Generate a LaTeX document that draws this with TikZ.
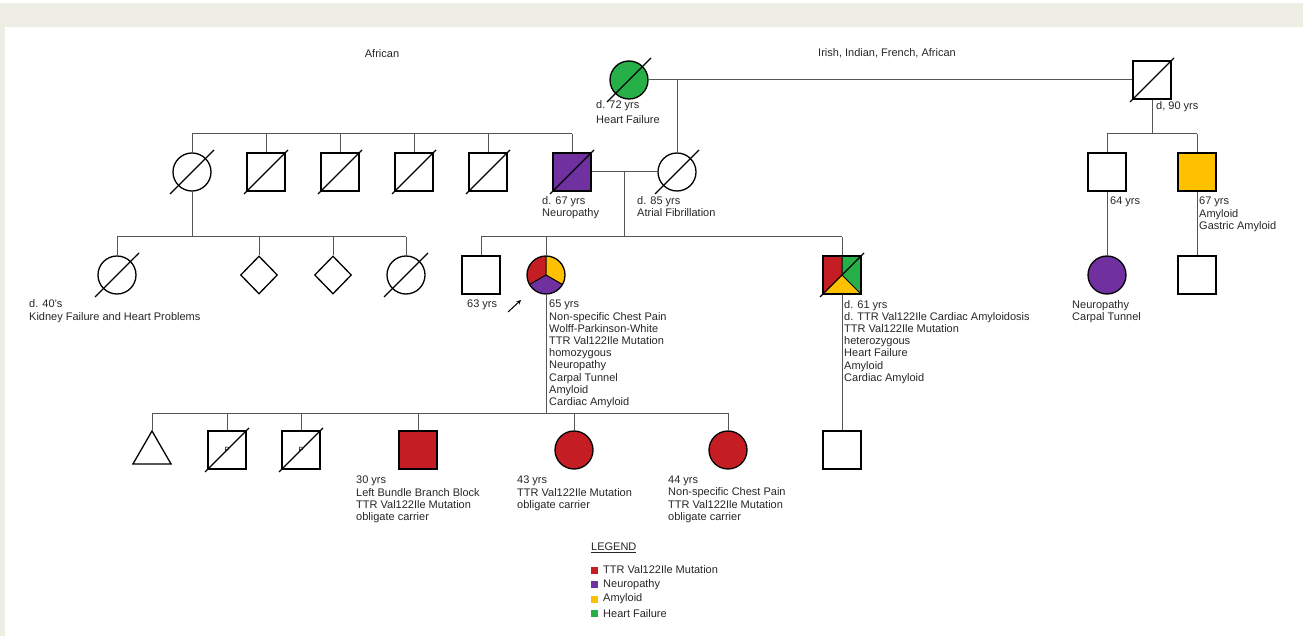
\documentclass[tikz,border=0pt]{standalone}
\usepackage{fontspec}
\setmainfont{Liberation Sans}
\usetikzlibrary{shapes.geometric, calc}

\definecolor{ttr}{RGB}{196,30,36}
\definecolor{neuro}{RGB}{112,48,160}
\definecolor{amyl}{RGB}{255,192,0}
\definecolor{hf}{RGB}{40,176,72}
\definecolor{beige}{RGB}{238,238,228}
\definecolor{ln}{RGB}{85,85,85}

% slash through a deceased person
\newcommand{\dead}[1]{\draw[black, line width=1.1pt] ($(#1.center)+(-22,22)$) -- ($(#1.center)+(22,-22)$);}

\begin{document}
\begin{tikzpicture}[x=1pt, y=-1pt,
    every node/.style={inner sep=0pt},
    sym/.style={draw=black, line width=1.3pt},
    male/.style={sym, rectangle, minimum size=38pt},
    female/.style={sym, circle, minimum size=38pt},
    unk/.style={sym, diamond, minimum width=37pt, minimum height=38pt},
    lnk/.style={draw=ln, line width=1pt},
    lbl/.style={anchor=north west, align=left, text=black!85, font=\fontsize{11}{12.2}\selectfont},
    proband/.style={path picture={
        \fill[ttr] (path picture bounding box.center) -- ++(0,-30) -- ++(-30,0) -- ++(0,47.3) -- cycle;
        \fill[amyl] (path picture bounding box.center) -- ++(0,-30) -- ++(30,0) -- ++(0,47.3) -- cycle;
        \fill[neuro] (path picture bounding box.center) -- ++(-30,17.3) -- ++(0,20) -- ++(60,0) -- ++(0,-20) -- cycle;
        \draw[black, line width=1pt] (path picture bounding box.center) -- ++(0,-30)
            (path picture bounding box.center) -- ++(-30,17.3)
            (path picture bounding box.center) -- ++(30,17.3);
      }},
    quad/.style={path picture={
        \fill[ttr] (path picture bounding box.center) -- ++(0,-25) -- ++(-25,0) -- ++(0,50) -- cycle;
        \fill[hf] (path picture bounding box.center) -- ++(0,-25) -- ++(25,0) -- ++(0,50) -- cycle;
        \fill[amyl] (path picture bounding box.center) -- ++(-25,25) -- ++(50,0) -- cycle;
        \draw[black, line width=1pt] (path picture bounding box.center) -- ++(0,-25)
            (path picture bounding box.center) -- ++(25,25);
      }},
  ]
  \useasboundingbox (0,0) rectangle (1303,636);
  \fill[beige] (0,3) rectangle (1303,27);
  \fill[beige] (0,3) rectangle (5,636);

  % generation I
  \node[female, fill=hf] (gm) at (629,80) {};
  \node[male] (gf) at (1152,80) {};
  % generation II
  \node[female] (a1) at (192,172) {};
  \node[male] (a2) at (266,172) {};
  \node[male] (a3) at (340,172) {};
  \node[male] (a4) at (414,172) {};
  \node[male] (a5) at (488,172) {};
  \node[male, fill=neuro] (pu) at (572,172) {};
  \node[female] (pm) at (677,172) {};
  \node[male] (b1) at (1107,172) {};
  \node[male, fill=amyl] (b2) at (1197,172) {};
  % generation III
  \node[female] (c1) at (117,275) {};
  \node[unk] (c2) at (259,275) {};
  \node[unk] (c3) at (333,275) {};
  \node[female] (c4) at (406,275) {};
  \node[male] (d1) at (481,275) {};
  \node[female, proband] (pb) at (546,275) {};
  \node[male, quad] (un) at (842,275) {};
  \node[female, fill=neuro] (b3) at (1107,275) {};
  \node[male] (b4) at (1197,275) {};
  % generation IV
  \node[sym, regular polygon, regular polygon sides=3, minimum size=44pt] (e1) at (152,453) {};
  \node[male] (e2) at (227,450) {};
  \node[male] (e3) at (301,450) {};
  \node[male, fill=ttr] (e4) at (418,450) {};
  \node[female, fill=ttr] (e5) at (574,450) {};
  \node[female, fill=ttr] (e6) at (728,450) {};
  \node[male] (uc) at (842,450) {};
  \node[font=\fontsize{7.5}{7.5}\selectfont] (p1) at (e2) {P};
  \node[font=\fontsize{7.5}{7.5}\selectfont] (p2) at (e3) {P};

  \foreach \n in {gm,gf,a1,a2,a3,a4,a5,pu,pm,c1,c4,un,e2,e3}
    \dead{\n};

  % sibship lines
  \coordinate (s1) at (0,134);
  \coordinate (s3) at (0,237);
  \coordinate (s5) at (0,413);
  \coordinate (m1) at ($(pu.east)!.5!(pm.west)$);

  \draw[lnk] (gm.east) -- (gf.west);
  \draw[lnk] (pm.north) -- (pm.north |- gm.east);
  \draw[lnk] (gf.south) -- (gf.south |- s1);
  \draw[lnk] (b1.north |- s1) -- (b2.north |- s1);
  \draw[lnk] (a1.north |- s1) -- (pu.north |- s1);
  \foreach \n in {a1,a2,a3,a4,a5,pu,b1,b2}
    \draw[lnk] (\n.north) -- (\n.north |- s1);
  \draw[lnk] (pu.east) -- (pm.west);
  \draw[lnk] (m1) -- (m1 |- s3);
  \draw[lnk] (a1.south) -- (a1.south |- s3);
  \draw[lnk] (c1.north |- s3) -- (c4.north |- s3);
  \draw[lnk] (d1.north |- s3) -- (un.north |- s3);
  \foreach \n in {c1,c2,c3,c4,d1,pb,un}
    \draw[lnk] (\n.north) -- (\n.north |- s3);
  \draw[lnk] (b1.south) -- (b3.north);
  \draw[lnk] (b2.south) -- (b4.north);
  \draw[lnk] (un.south) -- (uc.north);
  \draw[lnk] (pb.south) -- (pb.south |- s5);
  \draw[lnk] (e1.north |- s5) -- (e6.north |- s5);
  \foreach \n in {e1,e2,e3,e4,e5,e6}
    \draw[lnk] (\n.north) -- (\n.north |- s5);

  % proband arrow
  \coordinate (arr) at (508,312);
  \draw[-stealth, line width=1pt] (arr) -- ++(13,-12);

  % labels
  \node[lbl, anchor=center] (t1) at (382,54) {African};
  \node[lbl, anchor=center] (t2) at (887,53) {Irish, Indian, French, African};
  \node[lbl] (l1) at (596,100) {d. 72 yrs\\[3pt]Heart Failure};
  \node[lbl] (l2) at (1156,101) {d, 90 yrs};
  \node[lbl] (l3) at (542,196) {d. 67 yrs\\Neuropathy};
  \node[lbl] (l4) at (637,196) {d. 85 yrs\\Atrial Fibrillation};
  \node[lbl] (l5) at (1110,197) {64 yrs};
  \node[lbl] (l6) at (1199,197) {67 yrs\\Amyloid\\Gastric Amyloid};
  \node[lbl] (l7) at (29,299) {d. 40's\\[1pt]Kidney Failure and Heart Problems};
  \node[lbl] (l8) at (467,300) {63 yrs};
  \node[lbl] (l9) at (549,300) {65 yrs\\Non-specific Chest Pain\\Wolff-Parkinson-White\\TTR Val122Ile Mutation\\homozygous\\Neuropathy\\Carpal Tunnel\\Amyloid\\Cardiac Amyloid};
  \node[lbl] (l10) at (844,300) {d. 61 yrs\\d. TTR Val122Ile Cardiac Amyloidosis\\TTR Val122Ile Mutation\\heterozygous\\Heart Failure\\Amyloid\\Cardiac Amyloid};
  \node[lbl] (l11) at (1072,300) {Neuropathy\\Carpal Tunnel};
  \node[lbl] (l12) at (356,476) {30 yrs\\Left Bundle Branch Block\\TTR Val122Ile Mutation\\obligate carrier};
  \node[lbl] (l13) at (517,476) {43 yrs\\TTR Val122Ile Mutation\\obligate carrier};
  \node[lbl] (l14) at (668,476) {44 yrs\\Non-specific Chest Pain\\TTR Val122Ile Mutation\\obligate carrier};

  % legend
  \node[lbl] (lg) at (591,543) {\underline{LEGEND}};
  \foreach \c/\t [count=\i] in {ttr/TTR Val122Ile Mutation, neuro/Neuropathy, amyl/Amyloid, hf/Heart Failure} {
    \node[fill=\c, minimum size=7pt] (k\i) at (594,555.5+14.5*\i) {};
    \node[lbl, anchor=west] (kt\i) at (603,555.5+14.5*\i) {\t};
  }
\end{tikzpicture}
\end{document}
